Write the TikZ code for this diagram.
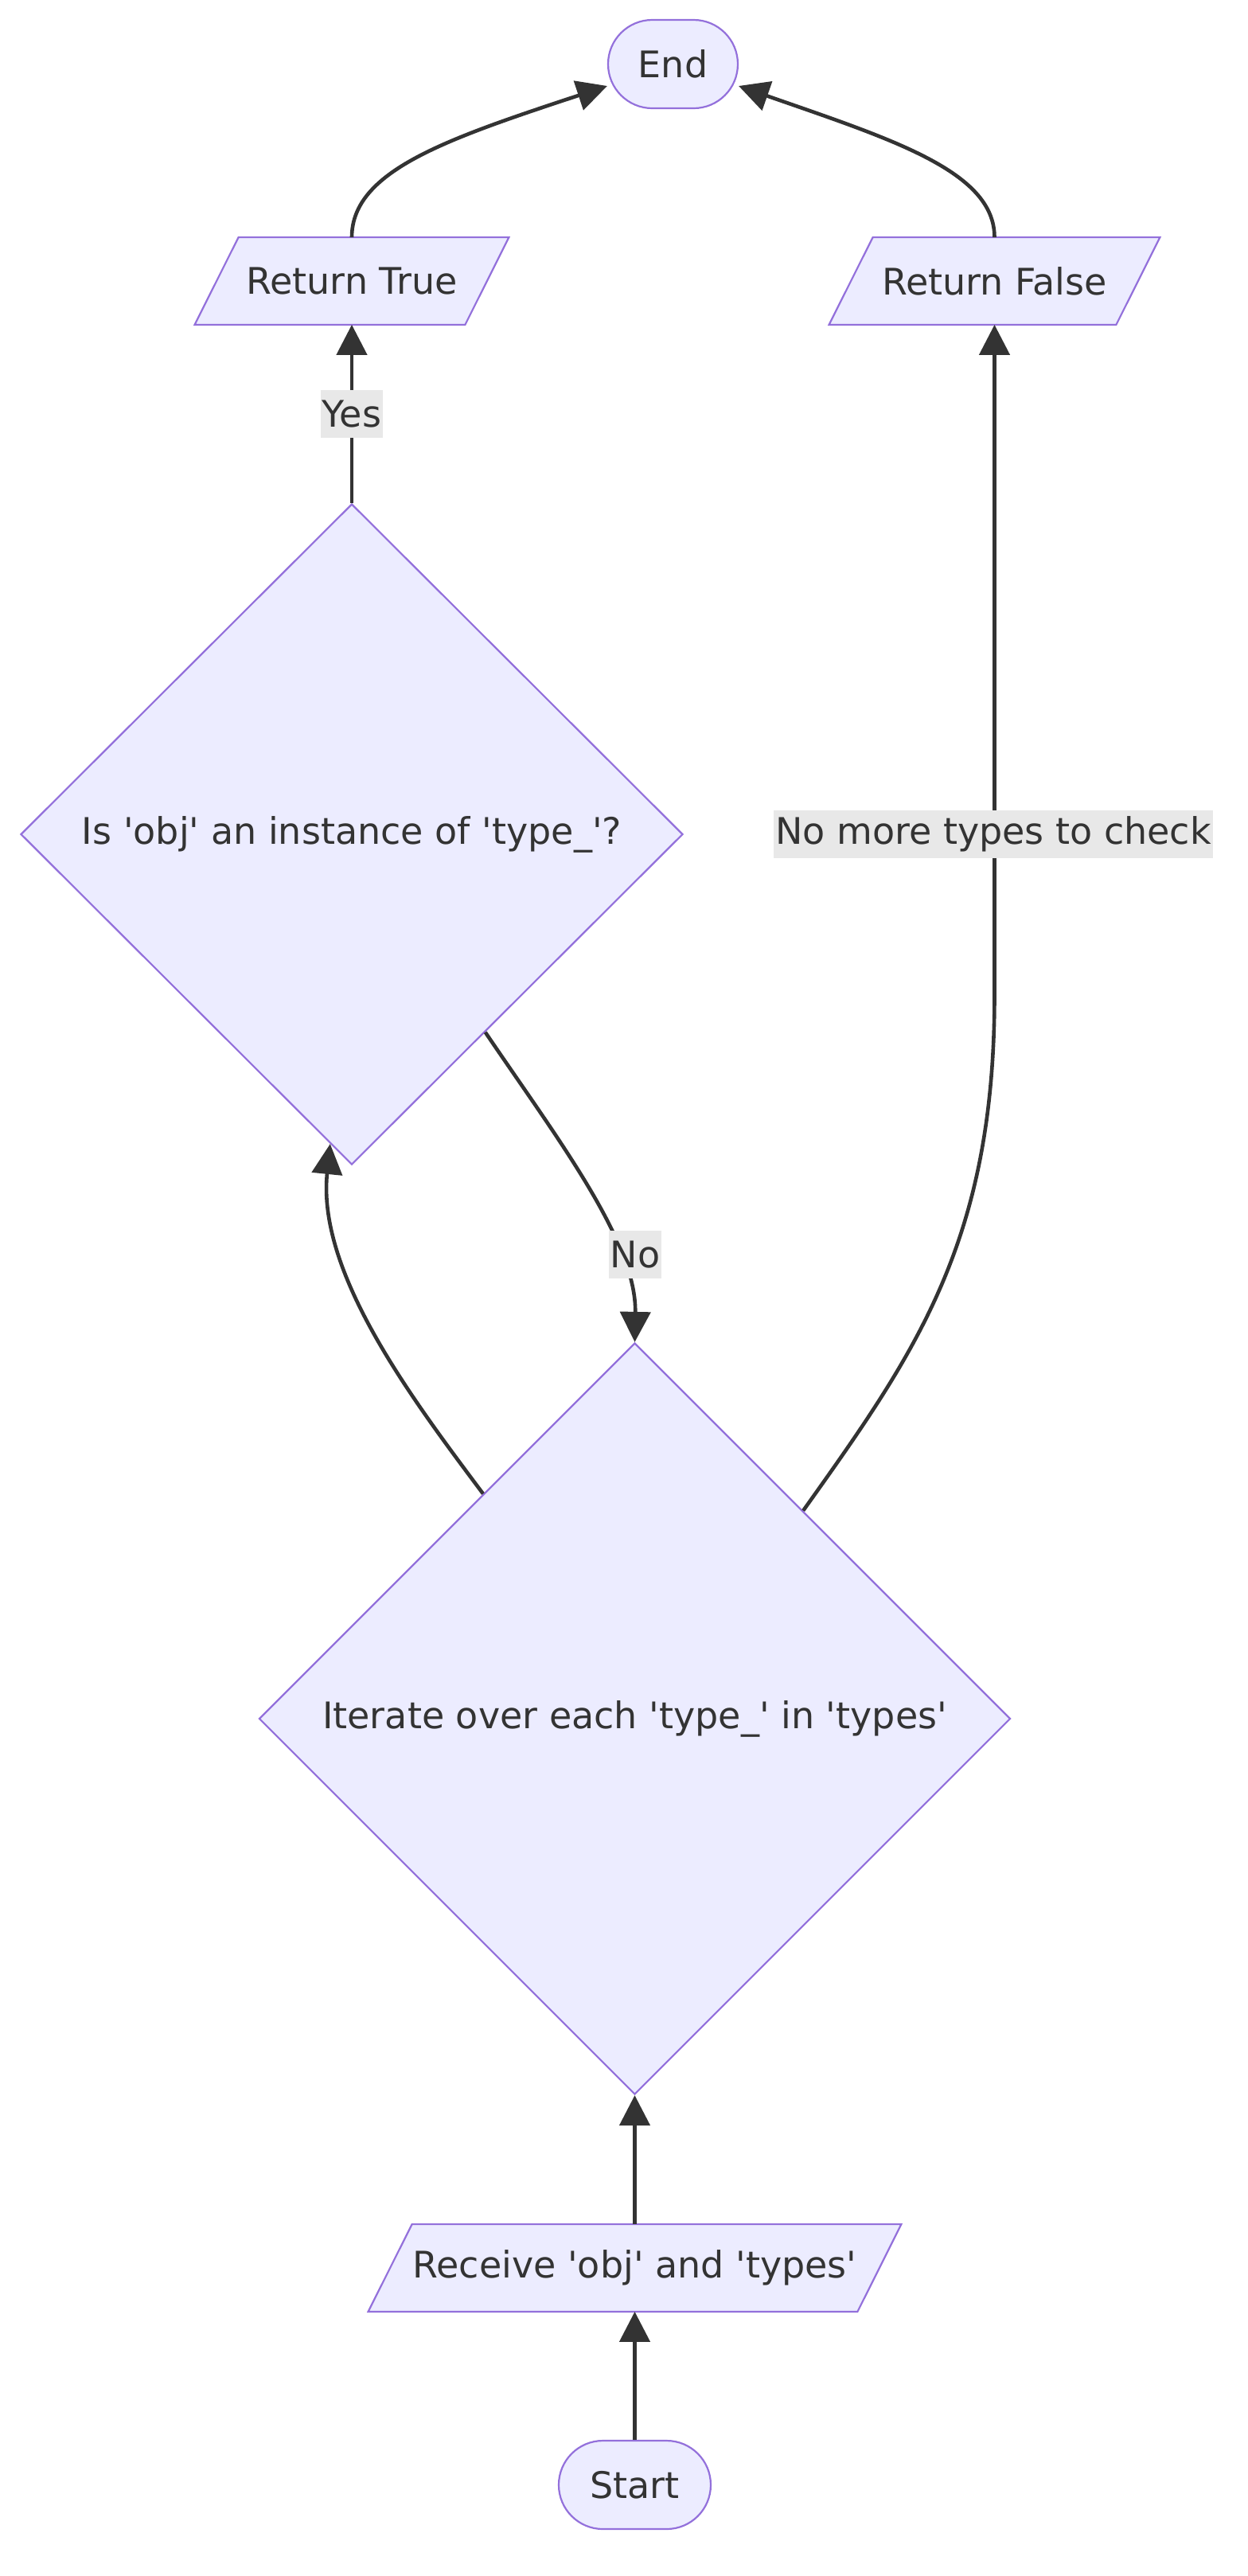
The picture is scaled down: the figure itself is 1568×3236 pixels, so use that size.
\documentclass[tikz,border=0pt]{standalone}
\usepackage{fontspec}
\newfontfamily\dvs{DejaVu Sans}
\usetikzlibrary{shapes.geometric,arrows.meta,calc,backgrounds}
\definecolor{nodefill}{HTML}{ECECFF}
\definecolor{nodeline}{HTML}{9370DB}
\definecolor{edgecol}{HTML}{333333}
\definecolor{labelbg}{HTML}{E8E8E8}
\begin{document}
\begin{tikzpicture}[x=0.5pt,y=-0.5pt,
  every node/.style={text=edgecol, font=\dvs\fontsize{23pt}{27pt}\selectfont},
  base/.style={draw=nodeline, fill=nodefill, line width=1.1pt, inner sep=0pt},
  term/.style={base, rectangle, rounded corners=27.75pt, minimum width=81.5pt, minimum height=55.5pt},
  io/.style={rectangle, inner sep=0pt, minimum height=54.5pt},
  iobox/.style={draw=nodeline, fill=nodefill, line width=1.1pt},
  decision/.style={base, diamond},
  edge/.style={draw=edgecol, line width=2.3pt, -{Triangle[length=19pt,width=19pt]}},
  lbl/.style={fill=labelbg, inner xsep=1pt, inner ysep=0pt, minimum height=30pt}
]
\useasboundingbox (0,0) rectangle (1568,3236);

\node[term] (end) at (845.5,80.5) {End};
\node[io, minimum width=169.5pt] (rtrue) at (442,353) {Return True};
\node[io, minimum width=180pt] (rfalse) at (1249.5,353) {Return False};
\node[decision, minimum width=416pt, minimum height=415pt] (iso) at (442,1048) {Is 'obj' an instance of 'type\_'?};
\node[decision, minimum width=472pt, minimum height=472pt] (iter) at (797.5,2159) {Iterate over each 'type\_' in 'types'};
\node[io, minimum width=307pt] (recv) at (797.5,2849) {Receive 'obj' and 'types'};
\node[term, minimum width=95.5pt] (start) at (797.5,3121.5) {Start};

\begin{scope}[on background layer]
\foreach \n in {rtrue,rfalse,recv}{
  \draw[iobox] ([xshift=13.75pt]\n.north west) -- ([xshift=13.75pt]\n.north east)
    -- ([xshift=-13.75pt]\n.south east) -- ([xshift=-13.75pt]\n.south west) -- cycle;
}
\end{scope}

\draw[edge] (start.north) -- (recv.south);
\draw[edge] (recv.north) -- (iter.south);
\draw[edge] (iter.124.6) .. controls (520,1760) and (398,1600) .. (iso.-94.9);
\draw[edge] (iso.-56) .. controls (700,1430) and (800,1560) .. (iter.north);
\draw[edge] (iso.north) -- (rtrue.south);
\draw[edge] (iter.51.8) .. controls (1150,1700) and (1249.5,1560) .. (1249.5,1250) -- (rfalse.south);
\draw[edge] (rtrue.north) .. controls (442,215) and (560,175) .. ([yshift=-13.75pt]end.west);
\draw[edge] (rfalse.north) .. controls (1249.5,215) and (1120,175) .. ([yshift=-13.75pt]end.east);

\node[lbl] (lyes) at (442,520) {Yes};
\node[lbl] (lno) at (798,1576) {No};
\node[lbl] (lmore) at (1248,1048) {No more types to check};
\end{tikzpicture}
\end{document}
